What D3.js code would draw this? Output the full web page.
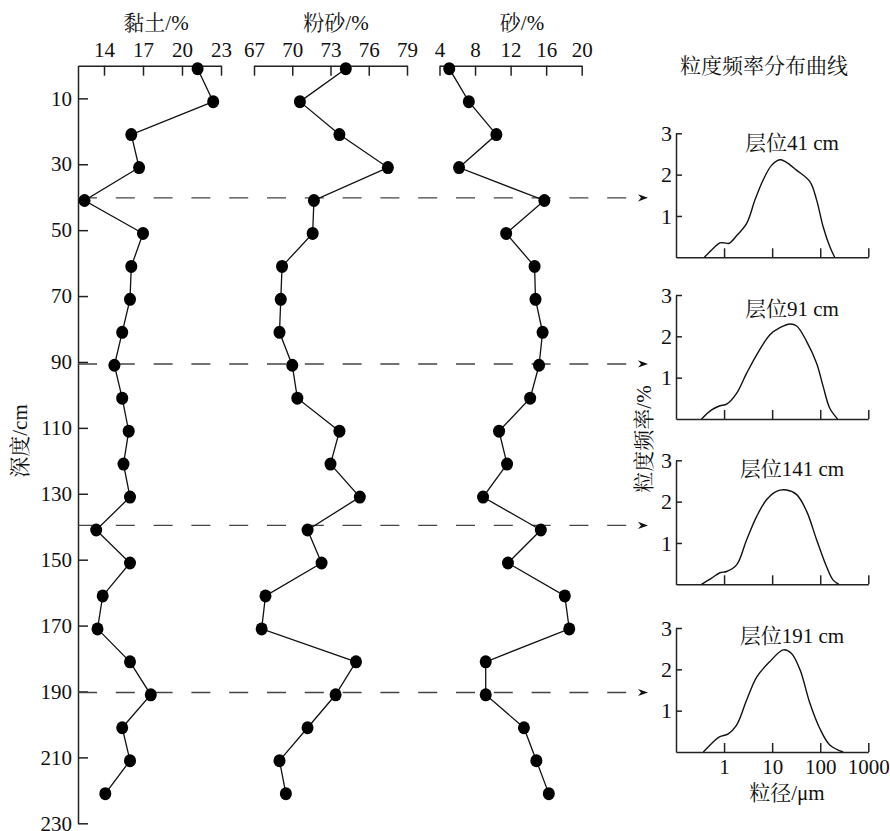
<!DOCTYPE html>
<html><head><meta charset="utf-8">
<script src="https://cdn.jsdelivr.net/npm/d3@7"></script>
<style>
body{margin:0;background:#fff}
svg text{font-family:"Liberation Serif","Noto Serif CJK SC","Noto Sans CJK SC",serif;fill:#111}
</style></head><body><svg id="c" width="890" height="831"></svg>
<script>
// ---- data ----
const depths=[1,11,21,31,41,51,61,71,81,91,101,111,121,131,141,151,161,171,181,191,201,211,221];
const clay=[21.2,22.4,16.1,16.7,12.5,17.0,16.1,16.0,15.4,14.8,15.4,15.9,15.5,16.0,13.4,16.0,13.9,13.5,16.0,17.6,15.4,16.0,14.1];
const silt=[74.2,70.6,73.7,77.5,71.7,71.6,69.2,69.1,69.0,70.0,70.4,73.7,73.0,75.3,71.2,72.3,67.9,67.6,75.0,73.4,71.2,69.0,69.5];
const sand=[5.1,7.3,10.4,6.2,15.8,11.5,14.7,14.8,15.6,15.2,14.2,10.7,11.6,8.9,15.4,11.7,18.1,18.6,9.2,9.2,13.5,14.9,16.3];
const depthTicks=[10,30,50,70,90,110,130,150,170,190,210,230];
const clayTicks=[14,17,20,23];
const siltTicks=[67,70,73,76,79];
const sandTicks=[4,8,12,16,20];
const seriesTitles=["黏土/%","粉砂/%","砂/%"];
const markedDepths=[40.2,90.6,139.6,190.3];
const panelTitles=["层位41 cm","层位91 cm","层位141 cm","层位191 cm"];
const size41=[0.39,0.6,0.82,1.0,1.28,1.82,2.95,4.4,6.5,9.8,14.5,18.5,32,61,84,115,158,200];
const freq41=[0,0.22,0.35,0.35,0.34,0.52,0.82,1.39,1.87,2.23,2.36,2.32,2.11,1.83,1.39,0.74,0.26,0];
const size91=[0.34,0.55,0.82,1.13,1.82,2.95,4.8,9,14.5,23.5,32.4,52,84,115,158,230];
const freq91=[0,0.22,0.32,0.36,0.62,1.11,1.56,2.04,2.21,2.30,2.25,1.88,1.35,0.79,0.26,0];
const size141=[0.34,0.55,0.82,1.13,1.82,2.95,4.8,7.7,12.3,20,32.4,52,84,135,186,245];
const freq141=[0,0.15,0.28,0.31,0.47,1.08,1.65,2.05,2.25,2.28,2.17,1.77,1.08,0.43,0.1,0];
const size191=[0.37,0.6,0.82,1.22,1.82,2.95,4.8,9,17,25,38,61,98,158,300];
const freq191=[0,0.25,0.37,0.44,0.65,1.26,1.82,2.19,2.47,2.39,1.99,1.18,0.57,0.17,0];
const psdTicksX=[1,10,100,1000];
const psdTicksY=[1,2,3];

// ---- layout ----
const svg=d3.select('#c');
const y=d3.scaleLinear([0,230],[65.4,823.3]);
const xClay=d3.scaleLinear([12,23],[78,221]);
const xSilt=d3.scaleLinear([67,79],[254,407]);
const xSand=d3.scaleLinear([4,20],[439.5,581.7]);
const AX="#222";
function styleAxis(g,fs){
  g.attr('font-family',null).attr('font-size',null);
  g.selectAll('path,line').attr('stroke',AX).attr('stroke-width',1.5);
  g.selectAll('text').attr('font-size',fs).attr('fill','#111');
}
// left depth axis
const gl=svg.append('g').attr('transform','translate(78,0)')
  .call(d3.axisLeft(y).tickValues(depthTicks).tickSizeInner(-10).tickSizeOuter(0).tickPadding(6));
styleAxis(gl,21);
svg.append('text').attr('transform','translate(20,441) rotate(-90)').attr('text-anchor','middle')
  .attr('dominant-baseline','central').attr('font-size',21).text('深度/cm');

// dashed marker lines
markedDepths.forEach(d=>{
  const yy=y(d);
  svg.append('line').attr('x1',78).attr('x2',632).attr('y1',yy).attr('y2',yy)
    .attr('stroke','#444').attr('stroke-width',1.4).attr('stroke-dasharray','19,18.8');
  svg.append('path').attr('d',`M648,${yy} L638,${yy-3.6} L641,${yy} L638,${yy+3.6} Z`).attr('fill','#111');
});
// top axes + series
const tops=[[xClay,clayTicks,clay,156],[xSilt,siltTicks,silt,336],[xSand,sandTicks,sand,522]];
tops.forEach(([x,t,vals,tx],i)=>{
  const g=svg.append('g').attr('transform','translate(0,65.7)')
    .call(d3.axisTop(x).tickValues(t).tickSizeInner(-10).tickSizeOuter(0).tickPadding(9));
  styleAxis(g,21);
  svg.append('text').attr('x',tx).attr('y',30).attr('text-anchor','middle').attr('font-size',21).text(seriesTitles[i]);
  const pts=depths.map((d,j)=>[x(vals[j]),y(d)]);
  svg.append('path').attr('d',d3.line()(pts)).attr('fill','none').attr('stroke','#111').attr('stroke-width',1.3);
  svg.selectAll(null).data(pts).join('ellipse').attr('cx',p=>p[0]).attr('cy',p=>p[1])
    .attr('rx',6).attr('ry',6.5).attr('fill','#000');
});

// right panels
svg.append('text').attr('x',764).attr('y',73).attr('text-anchor','middle').attr('font-size',21).text('粒度频率分布曲线');
svg.append('text').attr('transform','translate(644,439) rotate(-90)').attr('text-anchor','middle')
  .attr('dominant-baseline','central').attr('font-size',21).text('粒度频率/%');
const xP=d3.scaleLog([0.1,1000],[676,868.3]);
const panelBase=[257.3,419,584.3,752];
const titleDy=[17,21,16,15];
const psd=[[size41,freq41],[size91,freq91],[size141,freq141],[size191,freq191]];
psd.forEach(([s,f],i)=>{
  const y0=panelBase[i];
  const yP=d3.scaleLinear([0,3],[y0,y0-124]);
  const gy=svg.append('g').attr('transform','translate(676,0)')
    .call(d3.axisLeft(yP).tickValues(psdTicksY).tickFormat(d3.format('d')).tickSizeInner(-6).tickSizeOuter(0).tickPadding(4));
  styleAxis(gy,22);
  const ax=d3.axisBottom(xP).tickValues(psdTicksX).tickSizeInner(-9).tickSizeOuter(0).tickPadding(7);
  if(i<3) ax.tickFormat('');
  else ax.tickFormat(d3.format('d'));
  const gx=svg.append('g').attr('transform',`translate(0,${y0})`).call(ax);
  styleAxis(gx,21);
  svg.append('text').attr('x',792).attr('y',yP(3)+titleDy[i]).attr('text-anchor','middle').attr('font-size',21).text(panelTitles[i]);
  const line=d3.line().x((d,j)=>xP(s[j])).y(d=>yP(d)).curve(d3.curveCatmullRom.alpha(0.5));
  svg.append('path').attr('d',line(f)).attr('fill','none').attr('stroke','#111').attr('stroke-width',1.4);
});
svg.append('text').attr('x',787).attr('y',800).attr('text-anchor','middle').attr('font-size',21).text('粒径/μm');
</script></body></html>
